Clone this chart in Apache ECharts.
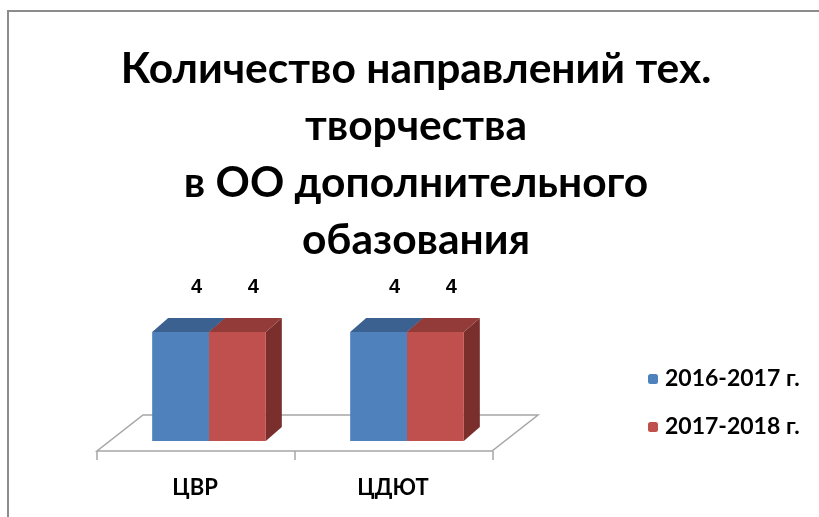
<!DOCTYPE html>
<html>
<head>
<meta charset="utf-8">
<script src="https://cdn.jsdelivr.net/npm/echarts@6/dist/echarts.min.js"></script>
<style>
  html, body { margin: 0; padding: 0; background: #ffffff; }
  #chart { width: 819px; height: 517px; }
</style>
</head>
<body>
<div id="chart"></div>
<script>
// Chart data
const categories = ['ЦВР', 'ЦДЮТ'];
const seriesNames = ['2016-2017 г.', '2017-2018 г.'];
const values2016 = [4, 4];
const values2017 = [4, 4];
const titleLines = ['Количество направлений тех.', 'творчества', 'в ОО дополнительного', 'обазования'];

const FONT = 'Lato, "Open Sans", sans-serif';

// Face colours for each series: front, top, side
const palette = [
  { front: '#4f81bd', top: '#3b6191', side: '#2f4f78' },
  { front: '#c0504d', top: '#923b39', side: '#7a2f2d' }
];

// Pseudo-3D depth offset of the boxes
const DX = 16, DY = -14;

function boxRenderer(slot) {
  return function (params, api) {
    const cat = api.value(0);
    const val = api.value(1);
    const top = api.coord([cat, val]);
    const base = api.coord([cat, 0]);
    const band = api.size([1, 0])[0];
    const w = band * 0.287;
    const x0 = top[0] + slot * w;
    const y1 = top[1];
    const y0 = base[1];
    const col = palette[slot + 1];
    return {
      type: 'group',
      children: [
        { type: 'polygon', shape: { points: [[x0 + w, y1], [x0 + w + DX, y1 + DY], [x0 + w + DX, y0 + DY], [x0 + w, y0]] }, style: { fill: col.side } },
        { type: 'rect', shape: { x: x0, y: y1, width: w, height: y0 - y1 }, style: { fill: col.front } },
        { type: 'polygon', shape: { points: [[x0, y1], [x0 + w, y1], [x0 + w + DX, y1 + DY], [x0 + DX, y1 + DY]] }, style: { fill: col.top } },
        {
          type: 'text', x: x0 + w / 2 + DX, y: y1 + DY - 31,
          style: { text: String(val), fill: '#000', font: 'bold 20px "Liberation Sans", Arial, sans-serif', align: 'center', verticalAlign: 'middle' }
        }
      ]
    };
  };
}

function floorRenderer(params, api) {
  const band = api.size([1, 0])[0];
  const c0 = api.coord([0, 0]);
  const c1 = api.coord([categories.length - 1, 0]);
  const gl = c0[0] - band / 2;
  const gr = c1[0] + band / 2;
  const by = c0[1];
  const fy = by + 10, ky = by - 26;
  const children = [{
    type: 'polygon',
    shape: { points: [[gl - 13, fy], [gr - 14, fy], [gr + 32, ky], [gl + 33, ky]] },
    style: { fill: '#ffffff', stroke: '#a6a6a6', lineWidth: 1.5 }
  }];
  for (let k = 0; k <= categories.length; k++) {
    const x = gl - 13 + k * band;
    children.push({ type: 'line', shape: { x1: x, y1: fy, x2: x, y2: fy + 9 }, style: { stroke: '#a6a6a6', lineWidth: 1.5 } });
  }
  return { type: 'group', children: children };
}

const chart = echarts.init(document.getElementById('chart'), null, { renderer: 'canvas' });

chart.setOption({
  backgroundColor: '#ffffff',
  animation: false,
  title: {
    text: titleLines.join('\n'),
    left: 411,
    top: 36,
    textAlign: 'center',
    textStyle: { fontFamily: FONT, fontWeight: 'bold', fontSize: 42.5, lineHeight: 57, color: '#000' }
  },
  legend: {
    data: seriesNames,
    orient: 'vertical',
    left: 643,
    top: 361,
    itemWidth: 10,
    itemHeight: 10,
    itemGap: 22,
    textStyle: { fontFamily: FONT, fontWeight: 'bold', fontSize: 23, lineHeight: 24, color: '#000', padding: [2, 0, 0, 2] }
  },
  graphic: [{
    type: 'rect',
    shape: { x: 8, y: 11, width: 840, height: 540 },
    style: { fill: 'none', stroke: '#8c8c8c', lineWidth: 2 },
    z: 100
  }],
  grid: { left: 110, right: 313, top: 277.5, bottom: 76 },
  xAxis: {
    type: 'category',
    data: categories,
    axisLine: { show: false },
    axisTick: { show: false },
    axisLabel: { margin: 36, padding: [0, 28, 0, 0], color: '#000', fontWeight: 'bold', fontSize: 22, fontFamily: FONT }
  },
  yAxis: { type: 'value', min: 0, max: 6, show: false, splitLine: { show: false } },
  series: [
    { type: 'custom', name: 'floor', data: [[0, 0]], renderItem: floorRenderer, silent: true, z: 1 },
    { type: 'custom', name: seriesNames[0], data: values2016.map((v, i) => [i, v]), renderItem: boxRenderer(-1), itemStyle: { color: palette[0].front }, encode: { x: 0, y: 1 }, z: 2 },
    { type: 'custom', name: seriesNames[1], data: values2017.map((v, i) => [i, v]), renderItem: boxRenderer(0), itemStyle: { color: palette[1].front }, encode: { x: 0, y: 1 }, z: 2 }
  ]
});
</script>
</body>
</html>
